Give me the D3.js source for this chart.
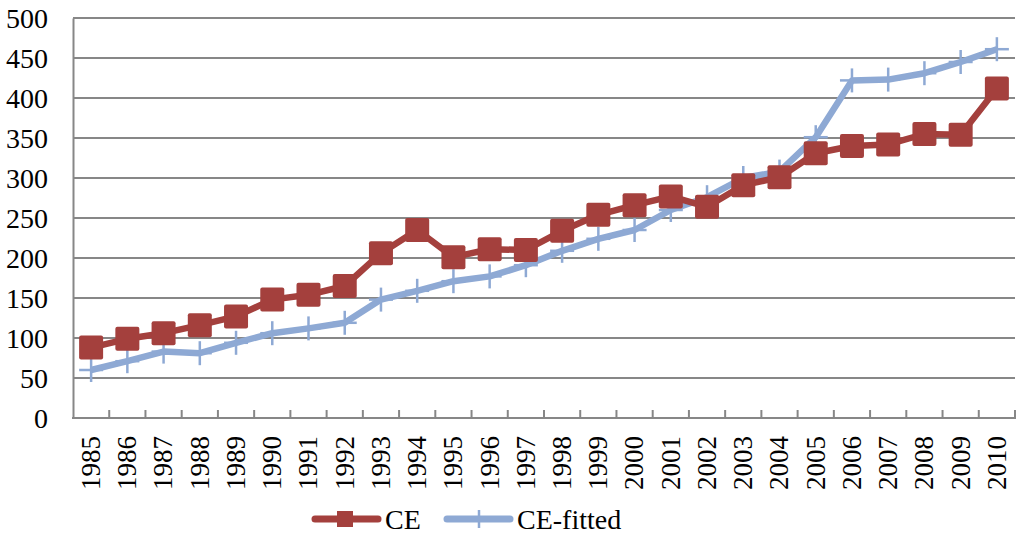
<!DOCTYPE html>
<html>
<head>
<meta charset="utf-8">
<script src="https://cdn.jsdelivr.net/npm/d3@7"></script>
<style>
body { margin: 0; background: #fff; }
</style>
</head>
<body>
<svg width="1024" height="537"></svg>
<script>
var years = ["1985","1986","1987","1988","1989","1990","1991","1992","1993","1994","1995","1996","1997",
  "1998","1999","2000","2001","2002","2003","2004","2005","2006","2007","2008","2009","2010"];
var ce = [88, 99, 106, 116, 127, 148, 154, 165, 206, 235, 201, 211, 210,
  234, 254, 266, 277, 264, 291, 301, 331, 340, 342, 355, 354, 412];
var ceFitted = [60, 71, 83, 81, 94, 106, 112, 119, 148, 159, 171, 177, 191,
  209, 224, 235, 260, 276, 300, 308, 351, 422, 423, 431, 445, 461];
var yTicks = [0, 50, 100, 150, 200, 250, 300, 350, 400, 450, 500];

var red = "#A4403D";
var blue = "#8EA9D4";
var grey = "#878787";
var serif = "'Liberation Serif', 'Times New Roman', Tinos, serif";

var svg = d3.select("svg");

var x = d3.scaleBand().domain(years).range([73, 1015]);
var y = d3.scaleLinear().domain([0, 500]).range([418, 18]);

// gridlines
svg.append("g")
.selectAll("line")
.data(yTicks.slice(1))
.enter().append("line")
.attr("x1", 73)
.attr("x2", 1015)
.attr("y1", function(d) { return y(d); })
.attr("y2", function(d) { return y(d); })
.attr("stroke", grey)
.attr("stroke-width", 2);

// y axis
var yAxis = svg.append("g")
.attr("transform", "translate(73,0)")
.call(d3.axisLeft(y).tickValues(yTicks).tickSize(0).tickPadding(25));
yAxis.attr("font-family", serif);
yAxis.select(".domain").attr("stroke", grey).attr("stroke-width", 2);
yAxis.selectAll("text")
.style("font-family", serif)
.style("font-size", "28px")
.attr("fill", "#000")
.attr("dy", "0.35em");

// x axis, ticks between categories pointing up
var xAxis = svg.append("g")
.attr("transform", "translate(0,418)");
xAxis.append("line")
.attr("x1", 72)
.attr("x2", 1016)
.attr("stroke", grey)
.attr("stroke-width", 2);
xAxis.selectAll("line.tk")
.data(years)
.enter().append("line")
.attr("class", "tk")
.attr("x1", function(d) { return x(d) + x.bandwidth(); })
.attr("x2", function(d) { return x(d) + x.bandwidth(); })
.attr("y1", 0)
.attr("y2", -8)
.attr("stroke", grey)
.attr("stroke-width", 2);
xAxis.selectAll("text")
.data(years)
.enter().append("text")
.attr("transform", function(d) {
  return "translate(" + (x(d) + x.bandwidth() / 2) + ",18) rotate(-90)";
})
.attr("text-anchor", "end")
.attr("dy", "0.33em")
.style("font-family", serif)
.style("font-size", "27px")
.text(function(d) { return d; });

var cx = function(d, i) { return x(years[i]) + x.bandwidth() / 2; };

var line = d3.line()
.x(cx)
.y(function(d) { return y(d); });

// CE-fitted
svg.append("path")
.datum(ceFitted)
.attr("d", line)
.attr("fill", "none")
.attr("stroke", blue)
.attr("stroke-width", 6.5)
.attr("stroke-linejoin", "round");

var plus = svg.append("g")
.selectAll("g")
.data(ceFitted)
.enter().append("g")
.attr("transform", function(d, i) { return "translate(" + cx(d, i) + "," + y(d) + ")"; });
plus.append("line")
.attr("y1", -12).attr("y2", 12)
.attr("stroke", blue).attr("stroke-width", 2.5);
plus.append("line")
.attr("x1", -12).attr("x2", 12)
.attr("stroke", blue).attr("stroke-width", 2.5);

// CE
svg.append("path")
.datum(ce)
.attr("d", line)
.attr("fill", "none")
.attr("stroke", red)
.attr("stroke-width", 6.5)
.attr("stroke-linejoin", "round");

svg.append("g")
.selectAll("rect")
.data(ce)
.enter().append("rect")
.attr("x", function(d, i) { return cx(d, i) - 12; })
.attr("y", function(d) { return y(d) - 12; })
.attr("width", 24)
.attr("height", 24)
.attr("rx", 2)
.attr("fill", red);

// legend
var legend = svg.append("g").attr("transform", "translate(0,519)");

legend.append("line")
.attr("x1", 315).attr("x2", 378)
.attr("stroke", red).attr("stroke-width", 7)
.attr("stroke-linecap", "round");
legend.append("rect")
.attr("x", 337).attr("y", -8)
.attr("width", 16).attr("height", 16)
.attr("fill", red);
legend.append("text")
.attr("x", 385).attr("dy", "0.35em")
.style("font-family", serif)
.style("font-size", "28px")
.text("CE");

legend.append("line")
.attr("x1", 447).attr("x2", 510)
.attr("stroke", blue).attr("stroke-width", 7)
.attr("stroke-linecap", "round");
legend.append("line")
.attr("x1", 479).attr("x2", 479)
.attr("y1", -9).attr("y2", 9)
.attr("stroke", blue).attr("stroke-width", 2.5);
legend.append("text")
.attr("x", 517).attr("dy", "0.35em")
.style("font-family", serif)
.style("font-size", "28px")
.text("CE-fitted");
</script>
</body>
</html>
